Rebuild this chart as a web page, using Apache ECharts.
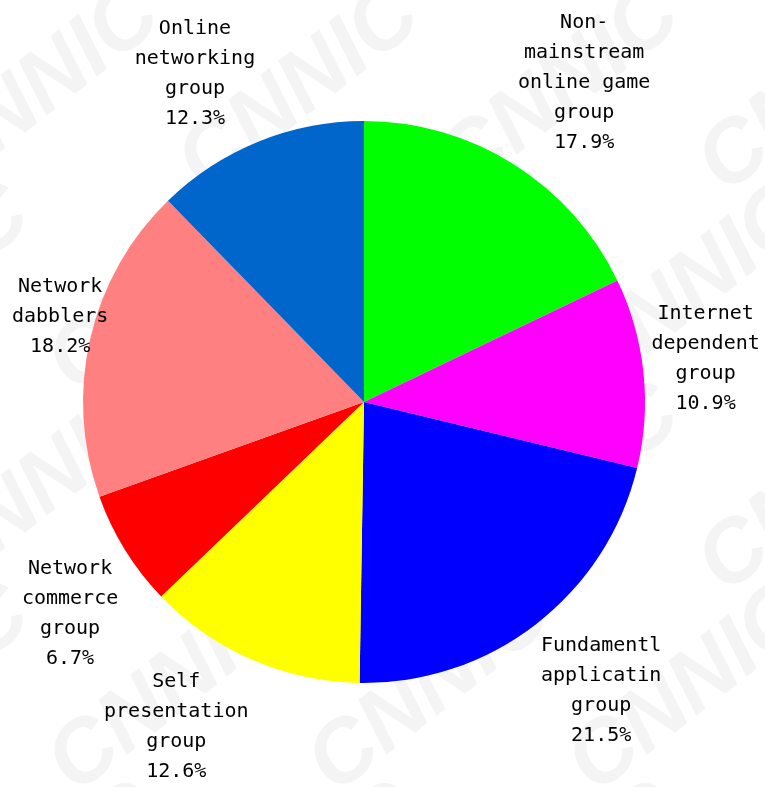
<!DOCTYPE html>
<html>
<head>
<meta charset="utf-8">
<style>
  html, body { margin: 0; padding: 0; background: #fff; }
  #chart { width: 765px; height: 787px; }
</style>
<script src="https://cdn.jsdelivr.net/npm/echarts@6/dist/echarts.min.js"></script>
</head>
<body>
<div id="chart"></div>
<script>
// Netizen groups, clockwise from 12 o'clock
const groups = [
  'Non-\nmainstream\nonline game\ngroup',
  'Internet\ndependent\ngroup',
  'Fundamentl\napplicatin\ngroup',
  'Self\npresentation\ngroup',
  'Network\ncommerce\ngroup',
  'Network\ndabblers',
  'Online\nnetworking\ngroup'
];
const shares = [17.9, 10.9, 21.5, 12.6, 6.7, 18.2, 12.3];
const colors = ['#00ff00', '#ff00ff', '#0000ff', '#ffff00', '#ff0000', '#ff8080', '#0066cc'];

const chart = echarts.init(document.getElementById('chart'), null, { renderer: 'canvas' });

// faint tiled "CNNIC" watermark behind the pie
const marks = [];
for (let row = -1; row < 5; row++) {
  for (let col = -1; col < 4; col++) {
    marks.push({
      type: 'text',
      x: col * 260 + (row % 2) * 130 + 40,
      y: row * 200 + 90,
      rotation: 38 * Math.PI / 180,
      z: -10,
      silent: true,
      style: {
        text: 'CNNIC',
        fill: '#f4f4f4',
        font: 'italic bold 88px "Liberation Sans", sans-serif',
        align: 'center',
        verticalAlign: 'middle'
      }
    });
  }
}

// outside labels sit just beyond the rim, pushed out by their own box size
// and kept inside the canvas horizontally
function placeLabel(p) {
  const data = chart.getModel().getSeriesByIndex(0).getData();
  const lay = data.getItemLayout(p.dataIndex);
  const mid = (lay.startAngle + lay.endAngle) / 2;
  const ux = Math.cos(mid), uy = Math.sin(mid);
  const gap = 8;
  const ax = lay.cx + (lay.r + gap) * ux;
  const ay = lay.cy + (lay.r + gap) * uy;
  const clamp = (t, k) => Math.max(-1, Math.min(1, k * t));
  const w = p.labelRect.width, h = p.labelRect.height;
  let x = ax + w / 2 * clamp(ux, 3);
  const minX = w / 2 + 12, maxX = chart.getWidth() - w / 2 - 2;
  x = Math.max(minX, Math.min(maxX, x));
  return {
    x: x,
    y: ay + h / 2 * clamp(uy, 2),
    align: 'center',
    verticalAlign: 'middle'
  };
}

chart.setOption({
  backgroundColor: '#ffffff',
  animation: false,
  graphic: { elements: marks },
  series: [{
    type: 'pie',
    center: [364, 402],
    radius: 281,
    startAngle: 90,
    clockwise: true,
    avoidLabelOverlap: false,
    labelLine: { show: false },
    itemStyle: { borderWidth: 0 },
    emphasis: { disabled: true },
    label: {
      show: true,
      position: 'outside',
      fontFamily: '"DejaVu Sans Mono", monospace',
      fontSize: 20,
      lineHeight: 30,
      color: '#000',
      align: 'center',
      formatter: p => p.name + '\n' + p.value.toFixed(1) + '%'
    },
    labelLayout: placeLabel,
    data: groups.map((g, i) => ({
      name: g,
      value: shares[i],
      itemStyle: { color: colors[i] }
    }))
  }]
});
</script>
</body>
</html>
